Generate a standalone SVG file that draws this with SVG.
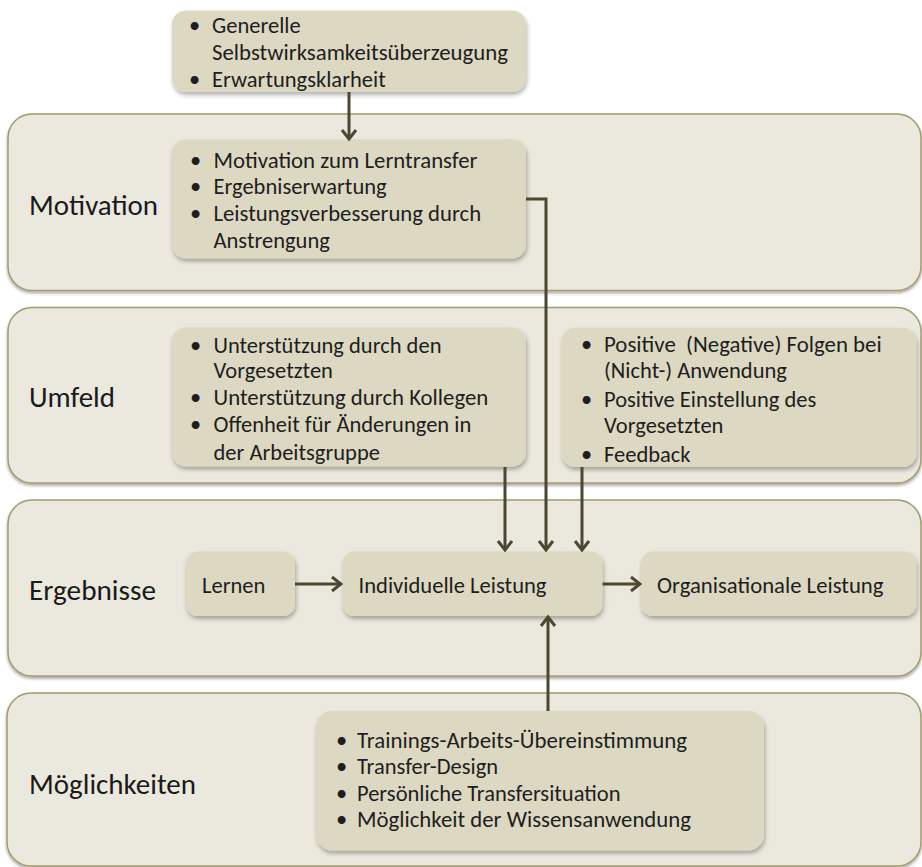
<svg xmlns="http://www.w3.org/2000/svg" width="922" height="867" viewBox="0 0 922 867">
  <defs>
    <filter id="bandShadow" x="-2%" y="-5%" width="104%" height="115%">
      <feDropShadow dx="0" dy="2" stdDeviation="1.5" flood-color="#000" flood-opacity="0.35"/>
    </filter>
    <filter id="boxShadow" x="-5%" y="-10%" width="112%" height="125%">
      <feDropShadow dx="1" dy="3" stdDeviation="2" flood-color="#000" flood-opacity="0.3"/>
    </filter>
    <marker id="arrow" viewBox="-12 -9 14 18" refX="0" refY="0" markerWidth="14" markerHeight="18" markerUnits="userSpaceOnUse" orient="auto">
      <path d="M-9,-7 L0,0 L-9,7" fill="none" stroke="#4d4731" stroke-width="3" stroke-linecap="butt" stroke-linejoin="miter"/>
    </marker>
    <style>
      .band { fill: #ebe8dd; stroke: #a59a6b; stroke-width: 1.5; filter: url(#bandShadow); }
      .box { fill: #dcd8c1; filter: url(#boxShadow); }
      .label { font-family: Carlito, Calibri, Lato, "Liberation Sans", sans-serif; font-size: 28.5px; fill: #1a1a1a; }
      .txt { font-family: Carlito, Calibri, Lato, "Liberation Sans", sans-serif; font-size: 22.5px; fill: #1e1e1e; white-space: pre; }
      .conn { fill: none; stroke: #4d4731; stroke-width: 3; }
    </style>
  </defs>

  <!-- section bands -->
  <g id="band-motivation">
    <rect class="band" x="8" y="114" width="913" height="176.5" rx="24"/>
    <text class="label" x="29" y="215" textLength="129" lengthAdjust="spacingAndGlyphs">Motivation</text>
  </g>
  <g id="band-umfeld">
    <rect class="band" x="8" y="307.5" width="913" height="175.5" rx="24"/>
    <text class="label" x="29" y="406.5" textLength="86" lengthAdjust="spacingAndGlyphs">Umfeld</text>
  </g>
  <g id="band-ergebnisse">
    <rect class="band" x="8" y="500" width="913" height="176" rx="24"/>
    <text class="label" x="29" y="600" textLength="127" lengthAdjust="spacingAndGlyphs">Ergebnisse</text>
  </g>
  <g id="band-moeglichkeiten">
    <rect class="band" x="7" y="693" width="914" height="173" rx="24"/>
    <text class="label" x="29" y="794" textLength="167" lengthAdjust="spacingAndGlyphs">Möglichkeiten</text>
  </g>

  <!-- antecedents -->
  <g id="node-voraussetzungen">
    <rect class="box" x="172" y="10.5" width="354" height="81.5" rx="14"/>
    <text class="txt" x="189" y="33.3">•</text>
    <text class="txt" x="212" y="33.3">Generelle</text>
    <text class="txt" x="212" y="60" textLength="296" lengthAdjust="spacingAndGlyphs">Selbstwirksamkeitsüberzeugung</text>
    <text class="txt" x="189" y="87.3">•</text>
    <text class="txt" x="212" y="87.3">Erwartungsklarheit</text>
  </g>

  <g id="node-motivation">
    <rect class="box" x="172" y="139.5" width="354" height="119" rx="14"/>
    <text class="txt" x="190" y="168.3">•</text>
    <text class="txt" x="213.5" y="168.3" textLength="264" lengthAdjust="spacingAndGlyphs">Motivation zum Lerntransfer</text>
    <text class="txt" x="190" y="194.3">•</text>
    <text class="txt" x="213.5" y="194.3">Ergebniserwartung</text>
    <text class="txt" x="190" y="220.7">•</text>
    <text class="txt" x="213.5" y="220.7" textLength="267.6" lengthAdjust="spacingAndGlyphs">Leistungsverbesserung durch</text>
    <text class="txt" x="213.5" y="248.3">Anstrengung</text>
  </g>

  <g id="node-umfeld-unterstuetzung">
    <rect class="box" x="172" y="327.5" width="354" height="139" rx="14"/>
    <text class="txt" x="190" y="353.3">•</text>
    <text class="txt" x="213.5" y="353.3">Unterstützung durch den</text>
    <text class="txt" x="213.5" y="378.3">Vorgesetzten</text>
    <text class="txt" x="190" y="405">•</text>
    <text class="txt" x="213.5" y="405" textLength="274.8" lengthAdjust="spacingAndGlyphs">Unterstützung durch Kollegen</text>
    <text class="txt" x="190" y="432.3">•</text>
    <text class="txt" x="213.5" y="432.3">Offenheit für Änderungen in</text>
    <text class="txt" x="213.5" y="460">der Arbeitsgruppe</text>
  </g>

  <g id="node-umfeld-folgen">
    <rect class="box" x="561.5" y="327.7" width="355" height="139.3" rx="14"/>
    <text class="txt" x="581" y="352.3">•</text>
    <text class="txt" x="604" y="352.3" textLength="277.7" lengthAdjust="spacingAndGlyphs">Positive  (Negative) Folgen bei</text>
    <text class="txt" x="604" y="378.3">(Nicht-) Anwendung</text>
    <text class="txt" x="581" y="406.7">•</text>
    <text class="txt" x="604" y="406.7">Positive Einstellung des</text>
    <text class="txt" x="604" y="433.3">Vorgesetzten</text>
    <text class="txt" x="581" y="461.7">•</text>
    <text class="txt" x="604" y="461.7">Feedback</text>
  </g>

  <g id="node-lernen">
    <rect class="box" x="186" y="551.5" width="109" height="64.5" rx="12"/>
    <text class="txt" x="202" y="593">Lernen</text>
  </g>

  <g id="node-individuelle-leistung">
    <rect class="box" x="342.5" y="551.5" width="260" height="64.5" rx="12"/>
    <text class="txt" x="358.5" y="593" textLength="188" lengthAdjust="spacingAndGlyphs">Individuelle Leistung</text>
  </g>

  <g id="node-organisationale-leistung">
    <rect class="box" x="641" y="551.5" width="275.5" height="64.5" rx="12"/>
    <text class="txt" x="657" y="593" textLength="226.5" lengthAdjust="spacingAndGlyphs">Organisationale Leistung</text>
  </g>

  <g id="node-moeglichkeiten">
    <rect class="box" x="316" y="711" width="448" height="139.5" rx="16"/>
    <text class="txt" x="336" y="748.3">•</text>
    <text class="txt" x="357" y="748.3" textLength="330" lengthAdjust="spacingAndGlyphs">Trainings-Arbeits-Übereinstimmung</text>
    <text class="txt" x="336" y="774.3">•</text>
    <text class="txt" x="357" y="774.3">Transfer-Design</text>
    <text class="txt" x="336" y="800.7">•</text>
    <text class="txt" x="357" y="800.7">Persönliche Transfersituation</text>
    <text class="txt" x="336" y="826.7">•</text>
    <text class="txt" x="357" y="826.7" textLength="334" lengthAdjust="spacingAndGlyphs">Möglichkeit der Wissensanwendung</text>
  </g>

  <!-- connectors -->
  <g id="connectors">
    <path class="conn" d="M349,92 V139" marker-end="url(#arrow)"/>
    <path class="conn" d="M526,199 H546 V550" marker-end="url(#arrow)"/>
    <path class="conn" d="M505,467 V550" marker-end="url(#arrow)"/>
    <path class="conn" d="M582,467 V550" marker-end="url(#arrow)"/>
    <path class="conn" d="M295,584 H341" marker-end="url(#arrow)"/>
    <path class="conn" d="M602.5,584 H640" marker-end="url(#arrow)"/>
    <path class="conn" d="M548,711 V617" marker-end="url(#arrow)"/>
  </g>
</svg>
